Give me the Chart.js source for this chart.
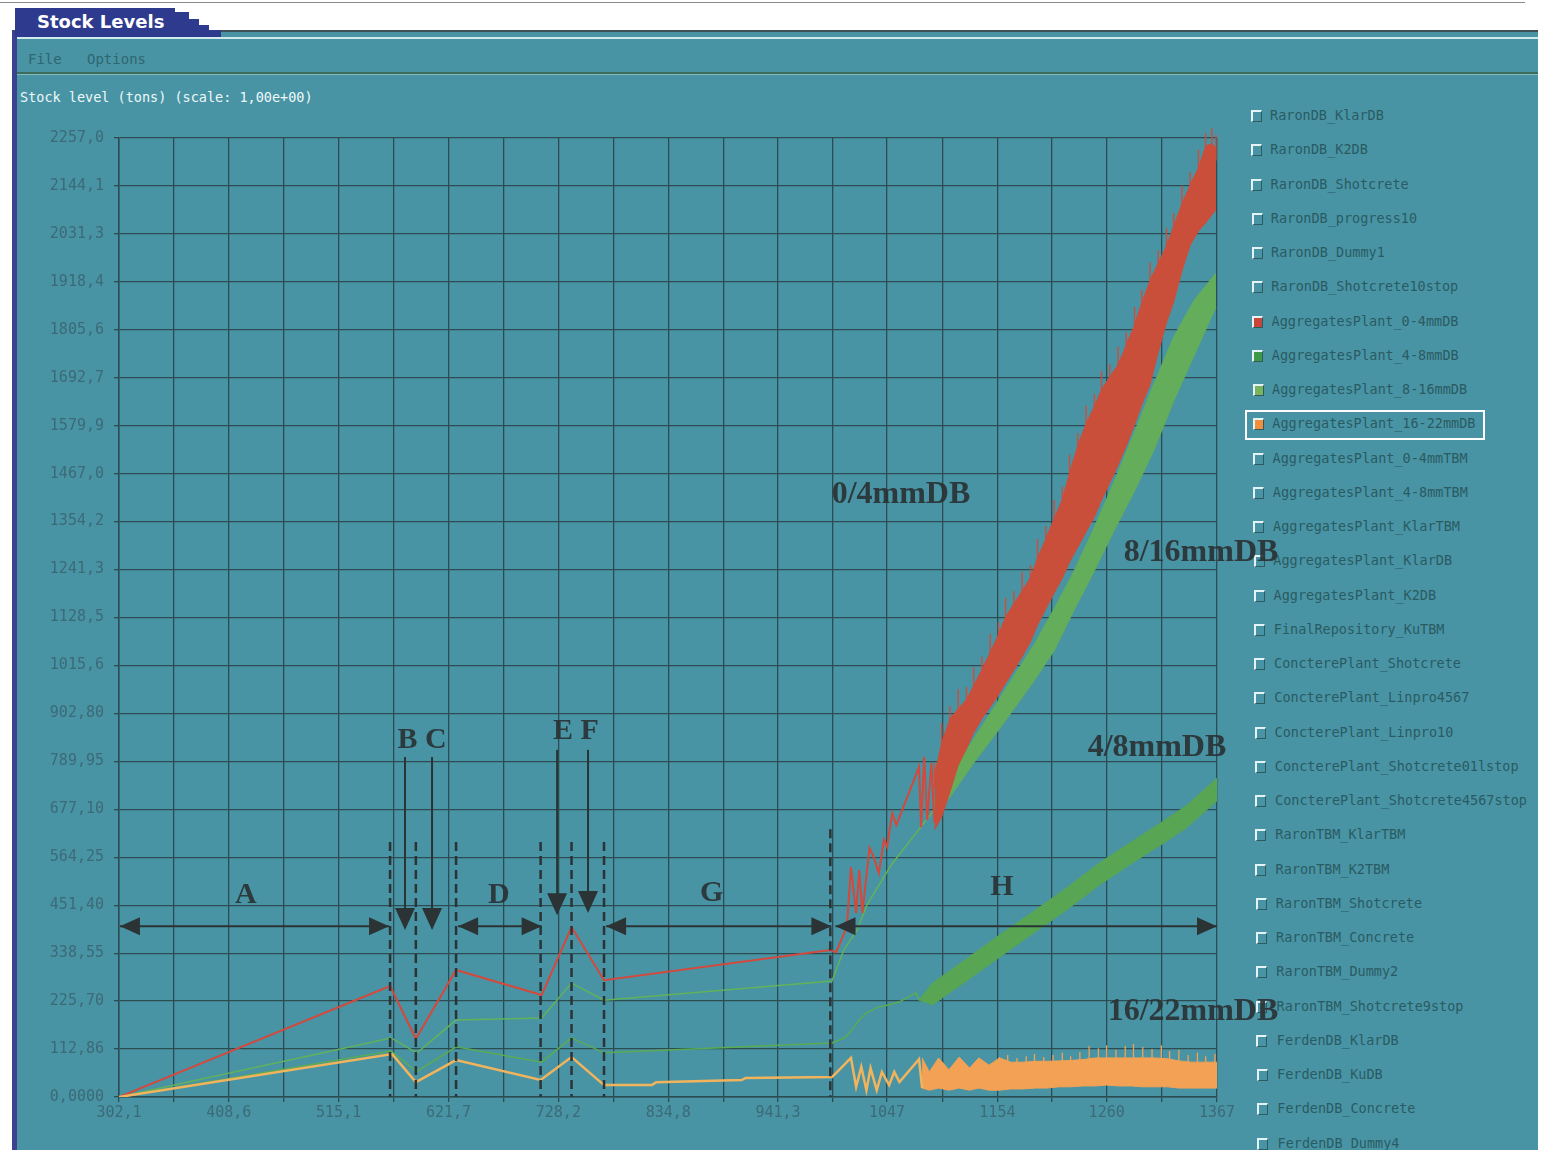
<!DOCTYPE html>
<html>
<head>
<meta charset="utf-8">
<title>Stock Levels</title>
<script src="https://cdn.jsdelivr.net/npm/chart.js"></script>
<style>
html, body { margin: 0; padding: 0; }
body { width: 1543px; height: 1150px; overflow: hidden; position: relative; background: #ffffff; font-family: "DejaVu Sans Mono", monospace; }
.abs { position: absolute; }
#topline { left: 0; top: 2px; width: 1525px; height: 1px; background: #8a8a8a; }
#win { left: 12px; top: 30px; width: 1526px; height: 1120px; background: #4894a5; border-left: 5px solid #3c4190; border-top: 2px solid #3f5058; box-sizing: border-box; }
#tab { left: 15px; top: 8px; width: 160px; height: 30px; background: #2e3a8e; }
#tab span { position: absolute; left: 22px; top: 3px; color: #ffffff; font: bold 18px "DejaVu Sans", sans-serif; }
.stair { position: absolute; background: #2e3a8e; }
#hilite { left: 17px; top: 37px; width: 1521px; height: 2px; background: #cfe9ec; }
#menu { left: 28px; top: 51px; color: #2f6670; font-size: 14px; white-space: pre; }
#menuline { left: 17px; top: 72px; width: 1521px; height: 2px; background: #3d6c5c; }
#menuline2 { left: 17px; top: 74px; width: 1521px; height: 1px; background: #80bcbf; }
#ytitle { left: 20px; top: 89px; color: #eef8f8; font-size: 13.5px; white-space: pre; }
.item { position: absolute; white-space: pre; font-size: 13.5px; color: #2b5b62; line-height: 16px; }
.box { position: absolute; width: 8px; height: 9px; border-top: 2px solid #e4f3f5; border-left: 2px solid #e4f3f5; border-right: 1px solid #2d5b60; border-bottom: 1px solid #2d5b60; }
#hl { left: 1245px; top: 410px; width: 236px; height: 26px; border: 2px solid #ffffff; }
#chart { left: 0; top: 80px; z-index: 5; }
</style>
</head>
<body>
<div id="topline" class="abs"></div>
<div id="win" class="abs"></div>
<div id="tab" class="abs"><span>Stock Levels</span></div>
<div class="stair" style="left:175px;top:12px;width:14px;height:26px"></div>
<div class="stair" style="left:189px;top:19px;width:10px;height:19px"></div>
<div class="stair" style="left:199px;top:25px;width:10px;height:13px"></div>
<div class="stair" style="left:209px;top:30px;width:12px;height:8px"></div>
<div id="hilite" class="abs"></div>
<div id="menu" class="abs">File   Options</div>
<div id="menuline" class="abs"></div>
<div id="menuline2" class="abs"></div>
<div id="ytitle" class="abs">Stock level (tons) (scale: 1,00e+00)</div>
<div id="legend"></div>
<div id="hl" class="abs"></div>
<canvas id="chart" class="abs" width="1300" height="1070"></canvas>

<script>
// axis tick labels as shown on the plot
const xTickLabels = ['302,1', '408,6', '515,1', '621,7', '728,2', '834,8', '941,3', '1047', '1154', '1260', '1367'];
const yTickLabels = ['0,0000', '112,86', '225,70', '338,55', '451,40', '564,25', '677,10', '789,95', '902,80', '1015,6',
    '1128,5', '1241,3', '1354,2', '1467,0', '1579,9', '1692,7', '1805,6', '1918,4', '2031,3', '2144,1', '2257,0'];

// AggregatesPlant_0-4mmDB (red)
const redTime = [302.1, 565, 590, 629, 712, 741, 772.5, 992, 997.5, 1008, 1012, 1017, 1020, 1023, 1030, 1034, 1039, 1044, 1047, 1052, 1056, 1078, 1080, 1083, 1086, 1090, 1093];
const redLevel = [0, 261, 137, 299, 240, 400, 275, 346, 341, 400, 541, 433, 534, 433, 586, 565, 527, 605, 588, 668, 640, 777, 635, 800, 652, 786, 645];
const redBandTime = [1093, 1100, 1108, 1116, 1124, 1131, 1139, 1147, 1155, 1162, 1170, 1178, 1186, 1193, 1201, 1209, 1217, 1224, 1232, 1240,
    1248, 1255, 1263, 1271, 1279, 1287, 1294, 1302, 1310, 1318, 1325, 1333, 1341, 1349, 1356, 1362, 1366];
const redBandTop = [756, 834, 890, 914, 935, 968, 1006, 1046, 1088, 1130, 1161, 1191, 1222, 1269, 1314, 1361, 1406, 1469, 1533, 1585,
    1625, 1665, 1695, 1723, 1770, 1817, 1869, 1921, 1963, 2003, 2050, 2102, 2147, 2187, 2239, 2243, 2234];
const redBandLow = [628, 659, 718, 781, 819, 857, 890, 918, 946, 974, 1005, 1036, 1071, 1111, 1149, 1186, 1221, 1259, 1294, 1330,
    1365, 1405, 1445, 1487, 1532, 1582, 1629, 1676, 1753, 1822, 1871, 1944, 2005, 2038, 2057, 2076, 2088];
const redSpikeTip = [786, 880, 920, 960, 965, 1012, 1036, 1090, 1118, 1175, 1191, 1236, 1252, 1313, 1344, 1405, 1436, 1512, 1563, 1628,
    1655, 1708, 1725, 1766, 1800, 1860, 1899, 1964, 1993, 2046, 2080, 2145, 2177, 2230, 2269, 2280, 2264];

// AggregatesPlant_8-16mmDB (upper green)
const green816Time = [302.1, 566, 591, 629, 712, 741, 772.5, 993.6, 1005, 1018, 1027.5, 1051, 1066, 1092.5];
const green816Level = [0, 139, 104, 181, 186, 268, 228, 273, 346, 393, 452, 546, 593, 675];
const green816BandTime = [1092.5, 1112, 1131, 1151, 1170, 1190, 1209, 1228, 1248, 1267, 1287, 1306, 1325, 1345, 1366];
const green816BandTop = [699, 770, 843, 918, 991, 1066, 1149, 1236, 1341, 1447, 1565, 1680, 1789, 1876, 1939];
const green816BandLow = [652, 720, 786, 850, 913, 981, 1050, 1144, 1238, 1332, 1426, 1523, 1638, 1746, 1859];

// AggregatesPlant_4-8mmDB (lower green)
const green48Time = [302.1, 566, 591, 629, 712, 741, 772.5, 993.6, 1007, 1015, 1020, 1027, 1039, 1049, 1059, 1075, 1078];
const green48Level = [0, 108, 60, 118, 82, 139, 104, 127, 141, 165, 181, 198, 212, 217, 224, 245, 228];
const green48BandTime = [1078, 1091, 1124, 1156, 1188, 1221, 1253, 1285, 1318, 1337, 1367];
const green48BandTop = [228, 268, 325, 381, 435, 492, 551, 602, 654, 685, 750];
const green48BandLow = [228, 217, 273, 329, 384, 440, 499, 551, 602, 633, 697];

// AggregatesPlant_16-22mmDB (orange)
const orangeTime = [302.1, 567, 590, 629, 711, 741, 772.5, 819, 823, 906, 910, 993.6, 997.5, 1012, 1017, 1022, 1027, 1031, 1037, 1042, 1049, 1054, 1059, 1078, 1081];
const orangeLevel = [0, 101, 35, 87, 40, 94, 28, 28, 35, 40, 45, 47, 56, 92, 24, 71, 16, 68, 16, 59, 28, 59, 35, 89, 21];
const orangeBandTime = [1081, 1088, 1097, 1107, 1117, 1127, 1136, 1146, 1156, 1167, 1179, 1191, 1202, 1214, 1225, 1237, 1249, 1260, 1272, 1284,
    1295, 1307, 1319, 1330, 1342, 1353, 1367];
const orangeBandTop = [92, 59, 92, 64, 94, 68, 92, 75, 92, 82, 82, 84, 84, 85, 86, 88, 92, 92, 92, 92, 92, 92, 90, 85, 82, 82, 82];
const orangeBandLow = [21, 16, 21, 16, 21, 16, 21, 16, 16, 19, 19, 21, 21, 24, 24, 26, 26, 28, 26, 26, 24, 24, 24, 21, 21, 21, 21];
const orangeSpikeTime = [1156, 1164, 1173, 1182, 1190, 1199, 1208, 1217, 1225, 1234, 1243, 1252, 1260, 1269, 1278, 1286, 1295, 1304, 1313, 1321,
    1330, 1339, 1348, 1356, 1365];
const orangeSpikeTip = [94, 99, 92, 96, 101, 94, 99, 104, 96, 106, 120, 115, 122, 111, 120, 125, 118, 113, 122, 108, 111, 99, 104, 96, 101];

// phase annotations (time units / tons)
const phaseLines = [565, 590, 629, 711, 741, 772.5, 992];
const phaseTops = [600, 600, 600, 600, 600, 600, 630];
const arrowLevel = 402;
const spans = [[303, 564], [631, 712], [774.5, 993], [997, 1367]];
const downArrows = [[579.5, 800, 393], [605.7, 800, 393], [727, 817, 428], [757, 817, 433]];
const phaseMarks = [['A', 425, 475], ['B C', 596, 840], ['D', 670.6, 475], ['E F', 745.3, 861], ['G', 877, 480], ['H', 1158.5, 494]];
const curveNames = [['0/4mmDB', 1060.5, 1417], ['8/16mmDB', 1351.5, 1280], ['4/8mmDB', 1308.8, 821], ['16/22mmDB', 1343.7, 200]];

const seriesNames = ['RaronDB_KlarDB', 'RaronDB_K2DB', 'RaronDB_Shotcrete', 'RaronDB_progress10', 'RaronDB_Dummy1', 'RaronDB_Shotcrete10stop',
    'AggregatesPlant_0-4mmDB', 'AggregatesPlant_4-8mmDB', 'AggregatesPlant_8-16mmDB', 'AggregatesPlant_16-22mmDB',
    'AggregatesPlant_0-4mmTBM', 'AggregatesPlant_4-8mmTBM', 'AggregatesPlant_KlarTBM', 'AggregatesPlant_KlarDB', 'AggregatesPlant_K2DB',
    'FinalRepository_KuTBM', 'ConcterePlant_Shotcrete', 'ConcterePlant_Linpro4567', 'ConcterePlant_Linpro10',
    'ConcterePlant_Shotcrete01lstop', 'ConcterePlant_Shotcrete4567stop', 'RaronTBM_KlarTBM', 'RaronTBM_K2TBM', 'RaronTBM_Shotcrete',
    'RaronTBM_Concrete', 'RaronTBM_Dummy2', 'RaronTBM_Shotcrete9stop', 'FerdenDB_KlarDB', 'FerdenDB_KuDB', 'FerdenDB_Concrete', 'FerdenDB_Dummy4'];
const checkedColors = { 6: '#c8463a', 7: '#3f9a48', 8: '#78b45e', 9: '#f0903c' };

// legend list on the right (html, like the original check boxes)
const legend = document.getElementById('legend');
seriesNames.forEach((name, i) => {
    const cy = 116 + i * 34.25;
    const box = document.createElement('div');
    box.className = 'box';
    box.style.left = (1251 + i * 0.2) + 'px';
    box.style.top = (cy - 6) + 'px';
    if (checkedColors[i]) box.style.background = checkedColors[i];
    legend.appendChild(box);
    const label = document.createElement('div');
    label.className = 'item';
    label.style.left = (1270 + i * 0.25) + 'px';
    label.style.top = (cy - 9) + 'px';
    label.textContent = name;
    legend.appendChild(label);
});

const pts = (xs, ys) => xs.map((t, i) => ({ x: t, y: ys[i] }));
// thin vertical spikes: a short stroke ending at each tip, broken by gaps
const spikes = (xs, tips, depth) => xs.flatMap((t, i) => [{ x: t, y: tips[i] - depth }, { x: t, y: tips[i] }, { x: t, y: null }]);

// x grid every half label step, labels on every other line
const xLabelValues = xTickLabels.map(s => parseFloat(s.replace(',', '.')));
const xGridValues = [];
xLabelValues.forEach((v, i) => {
    xGridValues.push(v);
    if (i < xLabelValues.length - 1) xGridValues.push((v + xLabelValues[i + 1]) / 2);
});
const yTickValues = yTickLabels.map(s => parseFloat(s.replace(',', '.')));

function head(ctx, x, y, dx, dy, len, w) {
    const bx = x - dx * len, by = y - dy * len;
    ctx.beginPath();
    ctx.moveTo(x, y);
    ctx.lineTo(bx - dy * w, by + dx * w);
    ctx.lineTo(bx + dy * w, by - dx * w);
    ctx.closePath();
    ctx.fill();
}

const annotations = {
    id: 'annotations',
    afterDatasetsDraw(chart) {
        const { ctx, scales: { x, y } } = chart;
        const px = v => x.getPixelForValue(v);
        const py = v => y.getPixelForValue(v);
        ctx.save();
        ctx.strokeStyle = '#2b3335';
        ctx.fillStyle = '#2b3335';

        // dashed phase boundaries
        ctx.lineWidth = 2.5;
        ctx.setLineDash([9, 5]);
        phaseLines.forEach((t, i) => {
            ctx.beginPath();
            ctx.moveTo(px(t), py(phaseTops[i]));
            ctx.lineTo(px(t), py(0));
            ctx.stroke();
        });
        ctx.setLineDash([]);

        // double headed span arrows
        ctx.lineWidth = 2;
        const ya = py(arrowLevel);
        spans.forEach(([a, b]) => {
            ctx.beginPath();
            ctx.moveTo(px(a), ya);
            ctx.lineTo(px(b), ya);
            ctx.stroke();
            head(ctx, px(a), ya, -1, 0, 20, 9);
            head(ctx, px(b), ya, 1, 0, 20, 9);
        });

        // event arrows B C E F
        downArrows.forEach(([t, from, to]) => {
            ctx.beginPath();
            ctx.moveTo(px(t), py(from));
            ctx.lineTo(px(t), py(to) - 15);
            ctx.stroke();
            head(ctx, px(t), py(to), 0, 1, 22, 10);
        });

        ctx.textAlign = 'center';
        ctx.textBaseline = 'middle';
        ctx.fillStyle = 'rgba(43,50,52,0.92)';
        ctx.font = 'bold 30px "Liberation Serif"';
        phaseMarks.forEach(([s, t, v]) => ctx.fillText(s, px(t), py(v)));
        ctx.font = 'bold 32px "Liberation Serif"';
        curveNames.forEach(([s, t, v]) => ctx.fillText(s, px(t), py(v)));
        ctx.restore();
    }
};

const clipTop = { left: 0, top: 12, right: 2, bottom: 0 };
const line = (data, color, width) => ({
    data, borderColor: color, borderWidth: width, pointRadius: 0, tension: 0, fill: false, spanGaps: false, clip: clipTop
});
const band = (data, color, toNext) => ({
    data, borderColor: color, backgroundColor: color, borderWidth: 1, pointRadius: 0, tension: 0,
    fill: toNext ? { target: '+1', above: color, below: color } : false, clip: clipTop
});

Chart.defaults.font.family = '"DejaVu Sans Mono", monospace';
const gridColor = '#2c4c52';

new Chart(document.getElementById('chart'), {
    type: 'line',
    data: {
        datasets: [
            line(spikes(orangeSpikeTime, orangeSpikeTip, 40), '#f3a154', 1.3),
            line(pts(orangeTime, orangeLevel), '#f1b45c', 2.5),
            band(pts(orangeBandTime, orangeBandTop), '#f3a154', true),
            band(pts(orangeBandTime, orangeBandLow), '#f3a154', false),
            line(spikes(redBandTime, redSpikeTip, 60), '#cf4d3c', 1.4),
            line(pts(redTime, redLevel), '#d5483c', 2),
            band(pts(redBandTime, redBandTop), '#c94f3b', true),
            band(pts(redBandTime, redBandLow), '#c94f3b', false),
            line(pts(green816Time, green816Level), '#62b25a', 1.5),
            band(pts(green816BandTime, green816BandTop), '#63ad5b', true),
            band(pts(green816BandTime, green816BandLow), '#63ad5b', false),
            line(pts(green48Time, green48Level), '#5aab54', 1.5),
            band(pts(green48BandTime, green48BandTop), '#58a553', true),
            band(pts(green48BandTime, green48BandLow), '#58a553', false)
        ]
    },
    options: {
        responsive: false,
        animation: false,
        devicePixelRatio: 1,
        layout: { padding: { top: 58, right: 83, left: 0, bottom: 0 } },
        plugins: {
            legend: { display: false },
            tooltip: { enabled: false }
        },
        scales: {
            x: {
                type: 'linear',
                min: 302.1,
                max: 1367,
                afterFit: s => { s.height = 53; },
                afterBuildTicks: s => { s.ticks = xGridValues.map(v => ({ value: v })); },
                grid: { color: gridColor, lineWidth: 1.3, tickLength: 5 },
                border: { color: gridColor, width: 1.5 },
                ticks: {
                    autoSkip: false,
                    maxRotation: 0,
                    minRotation: 0,
                    padding: 2,
                    color: '#3c6a76',
                    font: { size: 15 },
                    callback: (v, i) => (i % 2 === 0 ? xTickLabels[i / 2] : '')
                }
            },
            y: {
                min: 0,
                max: 2257,
                afterFit: s => { s.width = 119; },
                afterBuildTicks: s => { s.ticks = yTickValues.map(v => ({ value: v })); },
                grid: { color: gridColor, lineWidth: 1.3, tickLength: 5 },
                border: { color: gridColor, width: 1.5 },
                ticks: {
                    padding: 10,
                    color: '#3c6a76',
                    font: { size: 15 },
                    callback: (v, i) => yTickLabels[i]
                }
            }
        }
    },
    plugins: [annotations]
});
</script>
</body>
</html>
